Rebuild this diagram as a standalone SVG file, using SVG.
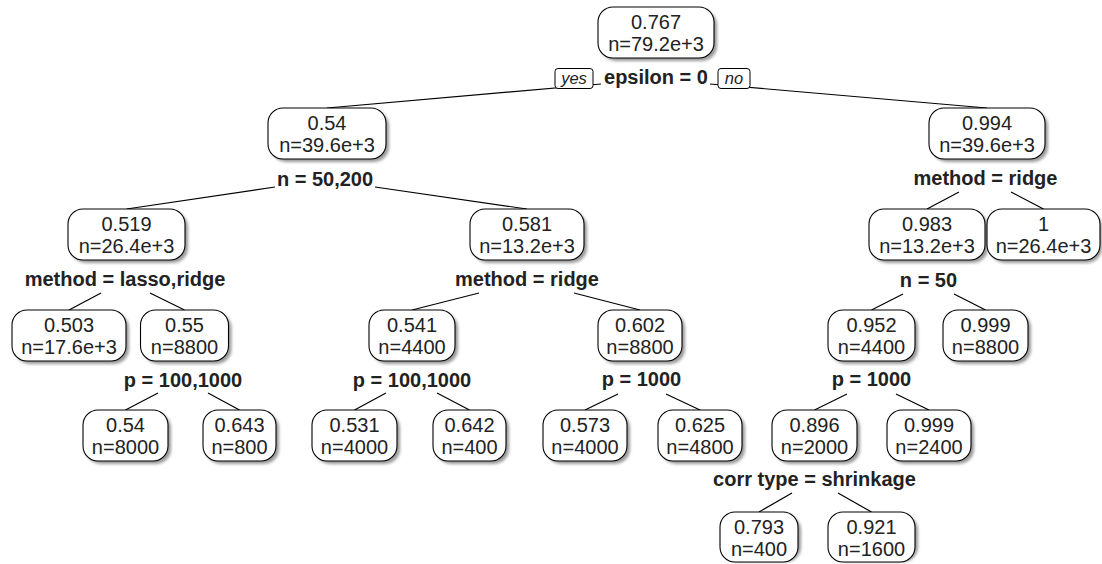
<svg xmlns="http://www.w3.org/2000/svg" width="1102" height="564" viewBox="0 0 1102 564">
<defs>
<filter id="blur" x="-10%" y="-10%" width="120%" height="130%"><feGaussianBlur stdDeviation="1.5"/></filter>
<style>
.sh{fill:#9a9a9a;filter:url(#blur)}
.bx{fill:#fff;stroke:#000;stroke-width:1.1}
.t{font-family:"Liberation Sans",Arial,sans-serif;font-size:20px;fill:#222;text-anchor:middle}
.lb{font-family:"Liberation Sans",Arial,sans-serif;font-size:20px;font-weight:bold;fill:#222;text-anchor:middle}
.yn{font-family:"Liberation Sans",Arial,sans-serif;font-size:16.5px;font-style:italic;fill:#222;text-anchor:middle}
.yb{fill:#fff;stroke:#000;stroke-width:1}
#edges line{stroke:#000;stroke-width:1.2}
</style>
</defs>
<rect width="1102" height="564" fill="#fff"/>
<g id="edges">
<line x1="327" y1="108" x2="601" y2="84"/>
<line x1="987" y1="108" x2="710" y2="84"/>
<line x1="126.5" y1="209" x2="275" y2="187"/>
<line x1="527" y1="209" x2="375" y2="187"/>
<line x1="927" y1="209" x2="959" y2="192"/>
<line x1="1043.5" y1="209" x2="1011" y2="192"/>
<line x1="69" y1="310" x2="101" y2="293"/>
<line x1="184.5" y1="310" x2="150" y2="293"/>
<line x1="412" y1="310" x2="479" y2="293"/>
<line x1="640" y1="310" x2="574" y2="293"/>
<line x1="871.5" y1="310" x2="903" y2="294"/>
<line x1="985.5" y1="310" x2="954" y2="294"/>
<line x1="125.5" y1="410" x2="158" y2="393"/>
<line x1="239.5" y1="410" x2="208" y2="393"/>
<line x1="354.5" y1="410" x2="386" y2="393"/>
<line x1="469.5" y1="410" x2="437" y2="393"/>
<line x1="585" y1="410" x2="618" y2="394"/>
<line x1="700" y1="410" x2="666" y2="394"/>
<line x1="814.5" y1="410" x2="847" y2="394"/>
<line x1="929" y1="410" x2="896" y2="394"/>
<line x1="759" y1="512" x2="792" y2="493"/>
<line x1="871.5" y1="512" x2="838" y2="493"/>
</g>
<g id="yesno">
<rect class="yb" x="555" y="68.5" width="38" height="20" rx="3"/>
<text class="yn" x="574" y="84">yes</text>
<rect class="yb" x="718" y="68.5" width="32" height="20" rx="3"/>
<text class="yn" x="734" y="84">no</text>
</g>
<g id="labels">
<text class="lb" x="656" y="84">epsilon = 0</text>
<text class="lb" x="325" y="186">n = 50,200</text>
<text class="lb" x="985.5" y="185">method = ridge</text>
<text class="lb" x="125" y="286">method = lasso,ridge</text>
<text class="lb" x="527" y="286">method = ridge</text>
<text class="lb" x="928.5" y="287">n = 50</text>
<text class="lb" x="183" y="387">p = 100,1000</text>
<text class="lb" x="412" y="387">p = 100,1000</text>
<text class="lb" x="641.5" y="386">p = 1000</text>
<text class="lb" x="871.5" y="386">p = 1000</text>
<text class="lb" x="814.5" y="486">corr type = shrinkage</text>
</g>
<g id="n1"><rect class="sh" x="601" y="10" width="116" height="51" rx="15"/><rect class="bx" x="598" y="7" width="116" height="51" rx="15"/><text class="t" x="656" y="28.5">0.767</text><text class="t" x="656" y="50.5">n=79.2e+3</text></g>
<g id="n2"><rect class="sh" x="271" y="111" width="118" height="51" rx="15"/><rect class="bx" x="268" y="108" width="118" height="51" rx="15"/><text class="t" x="327" y="129.5">0.54</text><text class="t" x="327" y="151.5">n=39.6e+3</text></g>
<g id="n3"><rect class="sh" x="932" y="111" width="116" height="51" rx="15"/><rect class="bx" x="929" y="108" width="116" height="51" rx="15"/><text class="t" x="987" y="129.5">0.994</text><text class="t" x="987" y="151.5">n=39.6e+3</text></g>
<g id="n4"><rect class="sh" x="71" y="212" width="117" height="51" rx="15"/><rect class="bx" x="68" y="209" width="117" height="51" rx="15"/><text class="t" x="126.5" y="230.5">0.519</text><text class="t" x="126.5" y="252.5">n=26.4e+3</text></g>
<g id="n5"><rect class="sh" x="473" y="212" width="114" height="51" rx="15"/><rect class="bx" x="470" y="209" width="114" height="51" rx="15"/><text class="t" x="527" y="230.5">0.581</text><text class="t" x="527" y="252.5">n=13.2e+3</text></g>
<g id="n6"><rect class="sh" x="872" y="212" width="116" height="51" rx="15"/><rect class="bx" x="869" y="209" width="116" height="51" rx="15"/><text class="t" x="927" y="230.5">0.983</text><text class="t" x="927" y="252.5">n=13.2e+3</text></g>
<g id="n7"><rect class="sh" x="990" y="212" width="112" height="51" rx="15"/><rect class="bx" x="987" y="209" width="113" height="51" rx="15"/><text class="t" x="1043.5" y="230.5">1</text><text class="t" x="1043.5" y="252.5">n=26.4e+3</text></g>
<g id="n8"><rect class="sh" x="15" y="313" width="114" height="51" rx="15"/><rect class="bx" x="12" y="310" width="114" height="51" rx="15"/><text class="t" x="69" y="331.5">0.503</text><text class="t" x="69" y="353.5">n=17.6e+3</text></g>
<g id="n9"><rect class="sh" x="143.5" y="313" width="88" height="51" rx="15"/><rect class="bx" x="140.5" y="310" width="88" height="51" rx="15"/><text class="t" x="184.5" y="331.5">0.55</text><text class="t" x="184.5" y="353.5">n=8800</text></g>
<g id="n10"><rect class="sh" x="372" y="313" width="86" height="51" rx="15"/><rect class="bx" x="369" y="310" width="86" height="51" rx="15"/><text class="t" x="412" y="331.5">0.541</text><text class="t" x="412" y="353.5">n=4400</text></g>
<g id="n11"><rect class="sh" x="601" y="313" width="84" height="51" rx="15"/><rect class="bx" x="598" y="310" width="84" height="51" rx="15"/><text class="t" x="640" y="331.5">0.602</text><text class="t" x="640" y="353.5">n=8800</text></g>
<g id="n12"><rect class="sh" x="831" y="313" width="87" height="51" rx="15"/><rect class="bx" x="828" y="310" width="87" height="51" rx="15"/><text class="t" x="871.5" y="331.5">0.952</text><text class="t" x="871.5" y="353.5">n=4400</text></g>
<g id="n13"><rect class="sh" x="946" y="313" width="85" height="51" rx="15"/><rect class="bx" x="943" y="310" width="85" height="51" rx="15"/><text class="t" x="985.5" y="331.5">0.999</text><text class="t" x="985.5" y="353.5">n=8800</text></g>
<g id="n14"><rect class="sh" x="86" y="413" width="85" height="51" rx="15"/><rect class="bx" x="83" y="410" width="85" height="51" rx="15"/><text class="t" x="125.5" y="431.5">0.54</text><text class="t" x="125.5" y="453.5">n=8000</text></g>
<g id="n15"><rect class="sh" x="206" y="413" width="73" height="51" rx="15"/><rect class="bx" x="203" y="410" width="73" height="51" rx="15"/><text class="t" x="239.5" y="431.5">0.643</text><text class="t" x="239.5" y="453.5">n=800</text></g>
<g id="n16"><rect class="sh" x="315" y="413" width="85" height="51" rx="15"/><rect class="bx" x="312" y="410" width="85" height="51" rx="15"/><text class="t" x="354.5" y="431.5">0.531</text><text class="t" x="354.5" y="453.5">n=4000</text></g>
<g id="n17"><rect class="sh" x="436" y="413" width="73" height="51" rx="15"/><rect class="bx" x="433" y="410" width="73" height="51" rx="15"/><text class="t" x="469.5" y="431.5">0.642</text><text class="t" x="469.5" y="453.5">n=400</text></g>
<g id="n18"><rect class="sh" x="546" y="413" width="84" height="51" rx="15"/><rect class="bx" x="543" y="410" width="84" height="51" rx="15"/><text class="t" x="585" y="431.5">0.573</text><text class="t" x="585" y="453.5">n=4000</text></g>
<g id="n19"><rect class="sh" x="661" y="413" width="84" height="51" rx="15"/><rect class="bx" x="658" y="410" width="84" height="51" rx="15"/><text class="t" x="700" y="431.5">0.625</text><text class="t" x="700" y="453.5">n=4800</text></g>
<g id="n20"><rect class="sh" x="775" y="413" width="85" height="51" rx="15"/><rect class="bx" x="772" y="410" width="85" height="51" rx="15"/><text class="t" x="814.5" y="431.5">0.896</text><text class="t" x="814.5" y="453.5">n=2000</text></g>
<g id="n21"><rect class="sh" x="890" y="413" width="84" height="51" rx="15"/><rect class="bx" x="887" y="410" width="84" height="51" rx="15"/><text class="t" x="929" y="431.5">0.999</text><text class="t" x="929" y="453.5">n=2400</text></g>
<g id="n22"><rect class="sh" x="723" y="515" width="78" height="47" rx="15"/><rect class="bx" x="720" y="512" width="78" height="50" rx="15"/><text class="t" x="759" y="533.5">0.793</text><text class="t" x="759" y="555.5">n=400</text></g>
<g id="n23"><rect class="sh" x="831" y="515" width="87" height="47" rx="15"/><rect class="bx" x="828" y="512" width="87" height="50" rx="15"/><text class="t" x="871.5" y="533.5">0.921</text><text class="t" x="871.5" y="555.5">n=1600</text></g>
</svg>
